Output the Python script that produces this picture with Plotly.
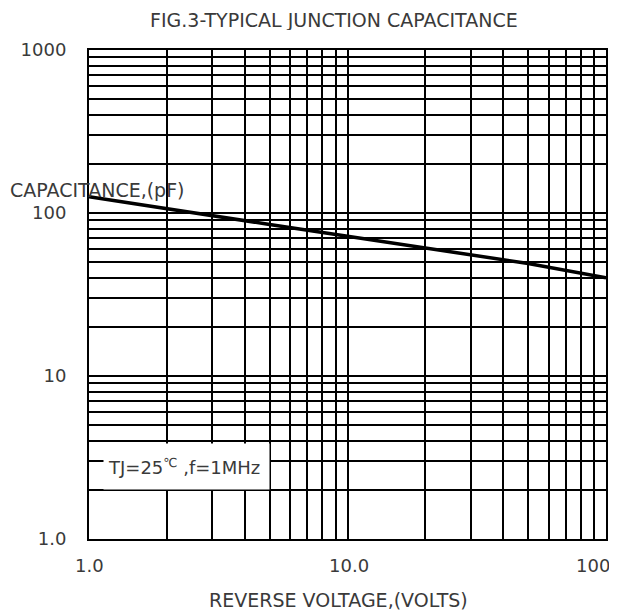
import plotly.graph_objects as go

# curve (log-log)
voltage = [1.0, 2.0, 3.0, 5.0, 10.0, 20.0, 30.0, 50.0, 100.0]
capacitance = [126, 106, 96, 85, 72, 61, 55, 49, 40]

x_ticks = [1, 10, 100]
x_labels = ["1.0", "10.0", "100"]
y_ticks = [1, 10, 100, 1000]
y_labels = ["1.0", "10", "100", "1000"]

FONT = "DejaVu Sans"
TXT = "#3a3a3a"

fig = go.Figure(
    data=go.Scatter(
        x=voltage,
        y=capacitance,
        mode="lines",
        line=dict(color="black", width=3.5),
        showlegend=False,
    )
)

grid = dict(
    showgrid=True,
    gridcolor="black",
    gridwidth=2,
    showline=True,
    linecolor="black",
    linewidth=2,
    mirror=True,
    ticks="",
    zeroline=False,
    automargin=False,
    minor=dict(dtick="D1", showgrid=True, gridcolor="black", gridwidth=2, ticks=""),
)

fig.update_xaxes(type="log", range=[0, 2], showticklabels=False, **grid)
fig.update_yaxes(
    type="log",
    range=[0, 3],
    tickmode="array",
    tickvals=y_ticks,
    ticktext=y_labels,
    ticklabelstandoff=17,
    tickfont=dict(family=FONT, size=18, color=TXT),
    **grid,
)

# x tick labels on the log axis; the last one is pulled in to sit at the frame edge
x_anchor = ["center", "center", "right"]
x_shift = [0, 1, 6]
tick_notes = [
    dict(text=t, xref="x", yref="paper", x=v, y=0, yshift=-26, xanchor=a, yanchor="middle",
         xshift=s, showarrow=False, font=dict(size=18))
    for t, v, a, s in zip(x_labels, [0, 1, 2], x_anchor, x_shift)
]

# page body adds 8px on the left/top, so the figure is 8px smaller
fig.update_layout(
    width=609,
    height=602,
    paper_bgcolor="white",
    plot_bgcolor="white",
    margin=dict(l=81, r=11, t=42, b=71),
    font=dict(family=FONT, size=19, color=TXT),
    annotations=tick_notes + [
        dict(text="FIG.3-TYPICAL JUNCTION CAPACITANCE", xref="paper", yref="paper",
             x=0.474, y=1, yshift=31, xanchor="center", yanchor="middle", showarrow=False,
             height=21, borderpad=0),
        dict(text="REVERSE VOLTAGE,(VOLTS)", xref="paper", yref="paper",
             x=0.482, y=0, yshift=-61, xanchor="center", yanchor="middle", showarrow=False),
        dict(text="CAPACITANCE,(pF)", xref="paper", yref="y",
             x=0, xshift=-81, y=2.144, xanchor="left", yanchor="middle", showarrow=False),
        dict(text="TJ=25<sup>℃</sup> ,f=1MHz", xref="x", yref="y",
             x=0.054, y=0.442, xanchor="left", yanchor="middle", showarrow=False,
             width=157, height=37, align="left", valign="middle",
             bgcolor="white", borderpad=4, font=dict(size=18)),
    ],
)

fig.write_html("out.html")
